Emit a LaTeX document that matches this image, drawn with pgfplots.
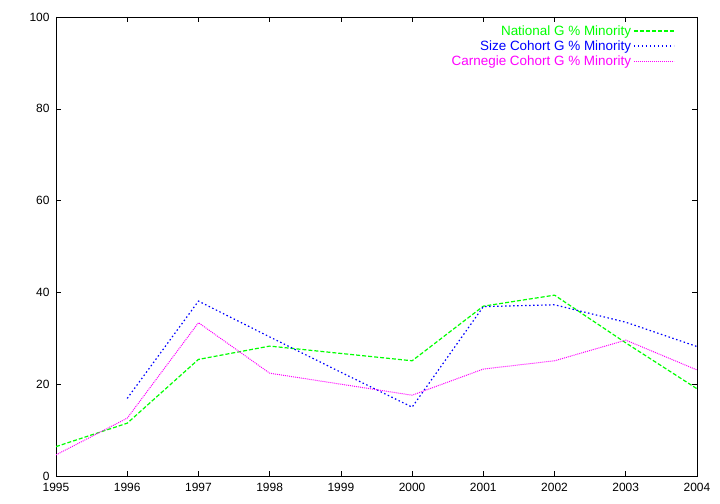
\documentclass[border=0pt]{standalone}
\usepackage{pgfplots}
\pgfplotsset{compat=1.18}
\usepackage{fontspec}
\setmainfont{Liberation Sans}
\definecolor{gGreen}{RGB}{0,255,0}
\definecolor{gBlue}{RGB}{0,0,255}
\definecolor{gMag}{RGB}{255,0,255}
\begin{document}
\begin{tikzpicture}[x=1bp,y=1bp]
\useasboundingbox (0,0) rectangle (720,504);
\begin{axis}[
  at={(56bp,28bp)}, anchor=south west,
  scale only axis, width=641bp, height=459bp,
  xmin=1995, xmax=2004, ymin=0, ymax=100,
  xtick={1995,...,2004}, ytick={0,20,...,100},
  xticklabel style={/pgf/number format/1000 sep={}, yshift=-4bp},
  yticklabel style={xshift=-3bp},
  /pgf/number format/assume math mode=true,
  tick align=inside, tick pos=both,
  major tick length=5bp,
  tick style={black, line width=0.5pt},
  axis line style={black, line width=0.6pt},
  ticklabel style={font=\fontsize{12}{14}\selectfont},
  legend style={draw=none, fill=none, at={(0.97,0.99)}, anchor=north east,
    font=\fontsize{13.5}{15}\selectfont, row sep=0bp},
  legend cell align=right,
  legend plot pos=right,
  legend image code/.code={\draw[#1, line width=1.5pt] (7bp,0.5bp) -- (47bp,0.5bp);},
]
\addplot[gGreen, line width=1.2pt, dash pattern=on 4bp off 2bp] coordinates {
(1995,6.4) (1996,11.5) (1997,25.4) (1998,28.3) (1999,26.7) (2000,25.1) (2001,37.0) (2002,39.4) (2003,29.0) (2004,19.0)};
\addlegendentry{\textcolor{gGreen}{National G \% Minority}}
\addplot[gBlue, line width=1.2pt, dash pattern=on 1.5bp off 2.5bp] coordinates {
(1996,16.9) (1997,38.1) (1998,30.3) (1999,22.6) (2000,15.0) (2001,36.9) (2002,37.3) (2003,33.5) (2004,28.2)};
\addlegendentry{\textcolor{gBlue}{Size Cohort G \% Minority}}
\addplot[gMag, line width=1.0pt, dash pattern=on 1bp off 1bp] coordinates {
(1995,4.6) (1996,12.6) (1997,33.4) (1998,22.4) (1999,20.0) (2000,17.6) (2001,23.3) (2002,25.1) (2003,29.6) (2004,23.1)};
\addlegendentry{\textcolor{gMag}{Carnegie Cohort G \% Minority}}
\end{axis}
\end{tikzpicture}
\end{document}
